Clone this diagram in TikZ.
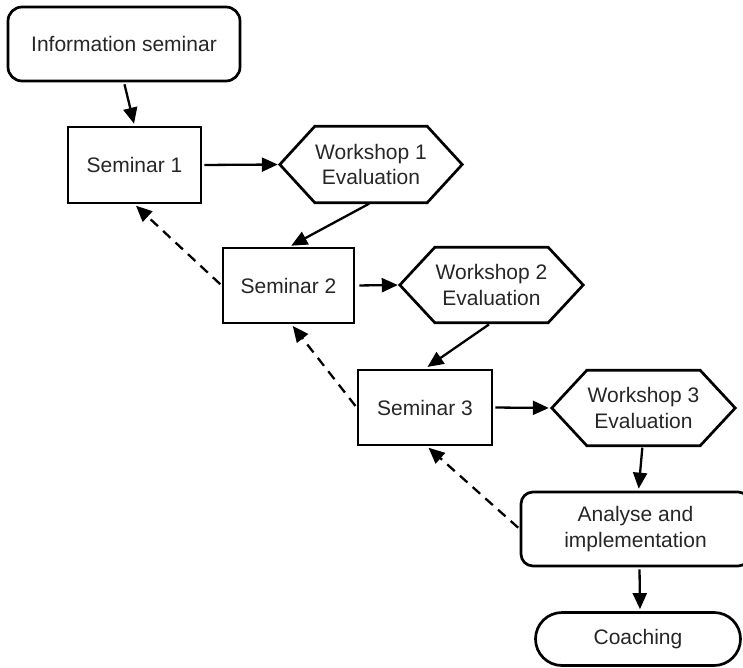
\documentclass[tikz,border=0pt]{standalone}
\usepackage{fontspec}
\setmainfont{Liberation Sans}
\usetikzlibrary{arrows.meta,shapes.misc}

% hexagon outline drawn around a (plain) node
\newcommand\hexframe[1]{%
  \draw[boxline] ([xshift=35pt]#1.north west) -- ([xshift=-35pt]#1.north east)
    -- (#1.east) -- ([xshift=-35pt]#1.south east)
    -- ([xshift=35pt]#1.south west) -- (#1.west) -- cycle;}

\begin{document}
\begin{tikzpicture}[x=1pt,y=-1pt,
  boxline/.style={line width=2.7pt,draw=black,line join=miter},
  txt/.style={font=\fontsize{21}{25.5}\selectfont,text=black!85,align=center,inner sep=0pt},
  sembox/.style={txt,boxline,rectangle},
  roundbox/.style={txt,boxline,rectangle,rounded corners=14pt},
  termbox/.style={txt,boxline,rounded rectangle},
  hexbox/.style={txt,rectangle},
  arr/.style={line width=2.3pt,-{Triangle[length=16pt,width=14pt]},shorten >=2pt,shorten <=2pt},
  darr/.style={arr,dash pattern=on 10pt off 7pt}]

\clip (0,0) rectangle (743,668);

% nodes
\node[roundbox,minimum width=232pt,minimum height=74pt] (info) at (124,44) {Information seminar};
\node[sembox,minimum width=133pt,minimum height=76pt] (s1) at (134.5,165) {Seminar 1};
\node[hexbox,minimum width=182pt,minimum height=76pt] (w1) at (371,164.5) {Workshop 1\\Evaluation};
\node[sembox,minimum width=131pt,minimum height=75pt] (s2) at (288.5,285.5) {Seminar 2};
\node[hexbox,minimum width=183pt,minimum height=75pt] (w2) at (491.5,285) {Workshop 2\\Evaluation};
\node[sembox,minimum width=134pt,minimum height=75pt] (s3) at (425,407.5) {Seminar 3};
\node[hexbox,minimum width=183pt,minimum height=75pt] (w3) at (643.5,408) {Workshop 3\\Evaluation};
\node[roundbox,rounded corners=12pt,minimum width=229pt,minimum height=74pt] (an) at (635.5,529) {Analyse and\\implementation};
\node[termbox,minimum width=205pt,minimum height=53pt] (co) at (638,639) {Coaching};

\hexframe{w1}
\hexframe{w2}
\hexframe{w3}

% forward flow
\draw[arr] (info.south) -- (s1.north);
\draw[arr] (s1.east) -- (w1.west);
\draw[arr] (w1.south) -- ([xshift=1pt]s2.north);
\draw[arr,shorten <=4pt] (s2.east) -- (w2.west);
\draw[arr,shorten <=3pt,shorten >=3pt] (w2.south) -- (s3.north);
\draw[arr,shorten >=3pt] (s3.east) -- (w3.west);
\draw[arr] ([xshift=-1pt]w3.south) -- ([xshift=3pt]an.north);
\draw[arr] ([xshift=4pt]an.south) -- ([xshift=2pt]co.north);

% feedback loops
\draw[darr] (s2.west) -- (s1.south);
\draw[darr] (s3.west) -- ([xshift=3pt]s2.south);
\draw[darr] (an.west) -- ([xshift=2pt]s3.south);

\end{tikzpicture}
\end{document}
